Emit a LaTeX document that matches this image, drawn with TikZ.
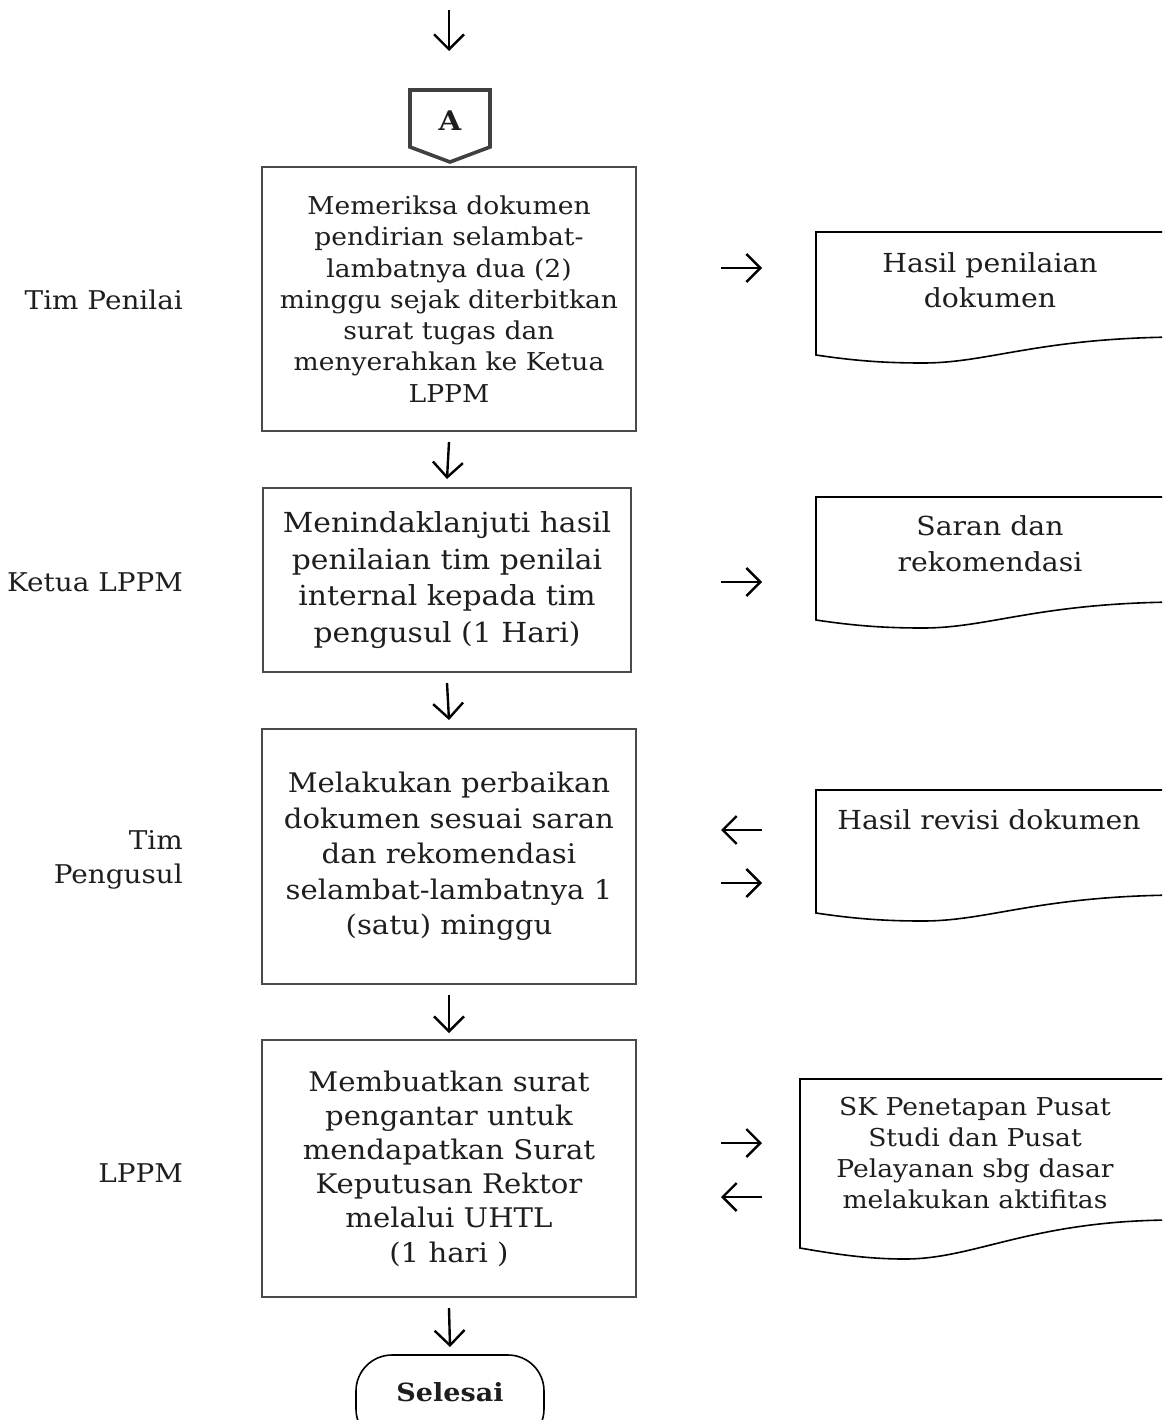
\documentclass[tikz,border=0pt]{standalone}
\usepackage{fontspec}
\setmainfont{DejaVu Serif}[FakeStretch=1.08]
\usetikzlibrary{arrows.meta}
\definecolor{txt}{HTML}{1E1E1E}
\definecolor{boxgray}{HTML}{4A4A4A}
\definecolor{conngray}{HTML}{404040}
\begin{document}
\begin{tikzpicture}[x=1pt,y=-1pt,
  proc/.style={draw=boxgray, line width=2pt, inner sep=0pt, align=center, text=txt},
  docline/.style={draw=black, line width=1.6pt},
  doctext/.style={align=center, text=txt, inner sep=0pt},
  lane/.style={align=right, anchor=east, text=txt, inner sep=0pt, font=\fontsize{25.8}{34}\selectfont},
  flow/.style={line width=2.4pt, -{Straight Barb[length=15pt,width=30pt]}},
  side/.style={line width=2.4pt, -{Straight Barb[length=14pt,width=28pt]}}
]
\useasboundingbox (0,0) rectangle (1162,1420);
\clip (0,0) rectangle (1162,1420);

% top arrow
\coordinate (t0) at (449,10);
\coordinate (t1) at (449,51);
\draw[flow] (t0) -- (t1);

% off-page connector
\draw[draw=conngray, line width=3.6pt, line join=miter] (410,90) -- (490,90) -- (490,147) -- (450,162) -- (410,147) -- cycle;
\node[text=txt, font=\fontsize{27}{30}\selectfont\bfseries] (A) at (450,121) {A};

% process boxes
\node[proc, minimum width=374pt, minimum height=264pt, font=\fontsize{24.6}{31.3}\selectfont] (b1) at (449,299)
 {Memeriksa dokumen\\pendirian selambat-\\lambatnya dua (2)\\minggu sejak diterbitkan\\surat tugas dan\\menyerahkan ke Ketua\\LPPM};
\node[proc, minimum width=368pt, minimum height=184pt, font=\fontsize{27.6}{36.7}\selectfont] (b2) at (447,580)
 {Menindaklanjuti hasil\\penilaian tim penilai\\internal kepada tim\\pengusul (1 Hari)};
\node[proc, minimum width=374pt, minimum height=255pt, font=\fontsize{27}{35.5}\selectfont] (b3) at (449,856.5)
 {Melakukan perbaikan\\dokumen sesuai saran\\dan rekomendasi\\selambat-lambatnya 1\\(satu) minggu};
\node[proc, minimum width=374pt, minimum height=257pt, font=\fontsize{27}{34.2}\selectfont] (b4) at (449,1168.5)
 {Membuatkan surat\\pengantar untuk\\mendapatkan Surat\\Keputusan Rektor\\melalui UHTL\\(1 hari )};

% terminator
\coordinate (endtop) at (450,1355);
\draw[draw=black, line width=1.6pt, rounded corners=36pt] (356,1355) rectangle (544,1445);
\node[text=txt, font=\fontsize{25}{30}\selectfont\bfseries] (end) at (450,1392) {Selesai};

% vertical flow arrows
\draw[flow] ([yshift=-10pt]b1.south) -- ([yshift=8pt]b2.north);
\draw[flow] ([yshift=-10pt]b2.south) -- ([yshift=8pt]b3.north);
\draw[flow] ([yshift=-10pt]b3.south) -- ([yshift=6pt]b4.north);
\draw[flow] ([yshift=-10pt]b4.south) -- ([yshift=8pt]endtop);

% lane labels
\node[lane] (l1) at (183,300) {Tim Penilai};
\node[lane] (l2) at (183,582) {Ketua LPPM};
\node[lane] (l3) at (183,860) {Tim\\Pengusul};
\node[lane] (l4) at (183,1173) {LPPM};

% documents
\draw[docline] (816,232) -- (816,355) .. controls (856,361) and (886,363) .. (923,363)
  .. controls (990,363) and (1040,337) .. (1186,337) -- (1220,337) -- (1220,232) -- cycle;
\node[doctext, font=\fontsize{26.2}{35}\selectfont] (d1) at (990,280) {Hasil penilaian\\dokumen};

\draw[docline] (816,497) -- (816,620) .. controls (856,626) and (886,628) .. (923,628)
  .. controls (990,628) and (1040,602) .. (1186,602) -- (1220,602) -- (1220,497) -- cycle;
\node[doctext, font=\fontsize{26.2}{36}\selectfont] (d2) at (990,544) {Saran dan\\rekomendasi};

\draw[docline] (816,790) -- (816,913) .. controls (856,919) and (886,921) .. (923,921)
  .. controls (990,921) and (1040,895) .. (1186,895) -- (1220,895) -- (1220,790) -- cycle;
\node[doctext, font=\fontsize{26.2}{35}\selectfont] (d3) at (989,820) {Hasil revisi dokumen};

\draw[docline] (800,1079) -- (800,1248) .. controls (840,1255) and (870,1259) .. (905,1259)
  .. controls (975,1259) and (1030,1221) .. (1170,1220) -- (1220,1220) -- (1220,1079) -- cycle;
\node[doctext, font=\fontsize{24.6}{30.7}\selectfont] (d4) at (975,1153) {SK Penetapan Pusat\\Studi dan Pusat\\Pelayanan sbg dasar\\melakukan aktifitas};

% side arrows
\coordinate (s1a) at (721,268); \coordinate (s1b) at (762,268);
\draw[side] (s1a) -- (s1b);
\coordinate (s2a) at (721,582); \coordinate (s2b) at (762,582);
\draw[side] (s2a) -- (s2b);
\coordinate (s3a) at (762,830); \coordinate (s3b) at (721,830);
\draw[side] (s3a) -- (s3b);
\coordinate (s4a) at (721,883); \coordinate (s4b) at (762,883);
\draw[side] (s4a) -- (s4b);
\coordinate (s5a) at (721,1143); \coordinate (s5b) at (762,1143);
\draw[side] (s5a) -- (s5b);
\coordinate (s6a) at (762,1197); \coordinate (s6b) at (721,1197);
\draw[side] (s6a) -- (s6b);
\end{tikzpicture}
\end{document}
